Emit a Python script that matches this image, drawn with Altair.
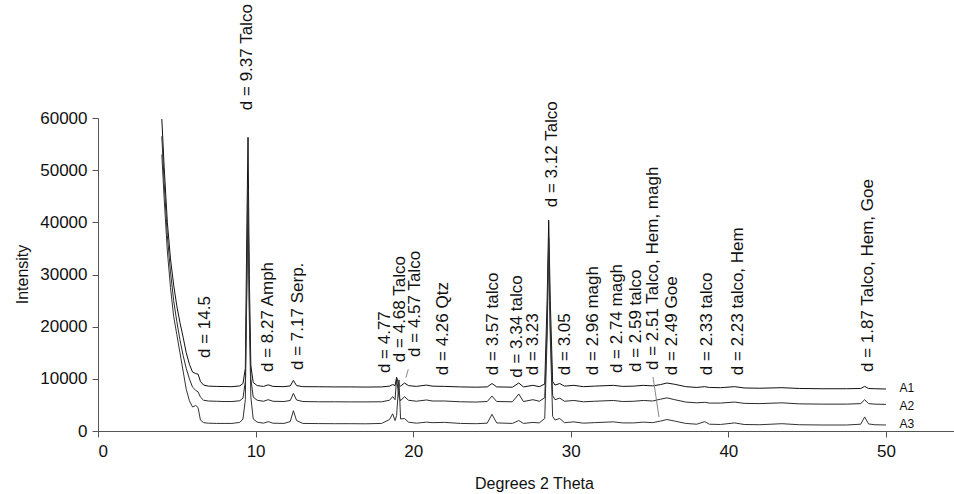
import altair as alt
import pandas as pd

# Diffraction patterns (2θ in degrees, intensity in counts) for samples A1, A2, A3
two_theta = [
    4.05, 4.2, 4.4, 4.6, 4.8, 5.0, 5.2, 5.4, 5.6, 5.8, 6.0, 6.2, 6.35, 6.5, 6.7, 7.0,
    7.5, 8.0, 8.5, 9.0, 9.2, 9.35, 9.45, 9.52, 9.6, 9.7, 9.85, 10.1, 10.5, 10.8, 11.1,
    11.8, 12.2, 12.4, 12.6, 13.0, 14.0, 15.0, 16.0, 17.0, 18.0, 18.5, 18.7, 18.85,
    18.95, 19.1, 19.2, 19.45, 19.7, 20.2, 20.85, 21.2, 22.0, 23.0, 24.0, 24.7, 25.0,
    25.3, 26.3, 26.7, 27.0, 27.6, 28.0, 28.35, 28.5, 28.6, 28.7, 28.85, 29.0, 29.3,
    29.6, 30.2, 30.8, 31.5, 32.7, 33.3, 34.0, 34.6, 35.2, 35.7, 36.1, 36.6, 37.3,
    38.0, 38.5, 38.8, 39.5, 40.4, 41.0, 42.0, 43.4, 44.5, 46.0, 47.5, 48.4, 48.65,
    48.9, 49.3, 50.0,
]
a1 = [
    59800, 50500, 40000, 33000, 28000, 24000, 20800, 18000, 15000, 12800, 11300, 11000, 10900, 9500, 8800, 8600,
    8550, 8520, 8500, 8650, 9100, 12000, 40000, 56300, 30000, 12500, 9300, 8700, 8550, 8850, 8550,
    8500, 8650, 9700, 8700, 8500, 8480, 8450, 8450, 8420, 8450, 8600, 8900, 8700,
    10300, 8900, 8600, 9200, 8700, 8550, 8800, 8600, 8550, 8450, 8400, 8450, 9100,
    8450, 8400, 9200, 8450, 8750, 8500, 9000, 25000, 40400, 25000, 9500, 8800, 9100,
    8600, 8750, 8500, 8600, 8750, 8550, 8600, 8750, 8650, 8900, 9200, 8950, 8500,
    8350, 8500, 8350, 8300, 8500, 8250, 8200, 8300, 8150, 8100, 8100, 8150, 8550,
    8150, 8100, 8050,
]
a2 = [
    56500, 47500, 37500, 30500, 25000, 21000, 17500, 14500, 12000, 10000, 8400, 7800, 7500, 6500, 5900, 5750,
    5700, 5650, 5650, 5800, 6300, 9500, 30000, 46500, 25000, 10000, 6500, 5900, 5700, 6000, 5700,
    5650, 5850, 7200, 5950, 5650, 5600, 5600, 5580, 5580, 5600, 5900, 6600, 6000,
    10000, 6500, 5800, 6600, 5900, 5700, 5950, 5750, 5750, 5600, 5550, 5650, 6700,
    5650, 5600, 7100, 5650, 6000, 5700, 6400, 20000, 37000, 20000, 6800, 6000, 6300,
    5700, 5850, 5600, 5700, 5850, 5650, 5700, 5850, 5750, 6100, 6350, 6000, 5550,
    5400, 5500, 5350, 5350, 5550, 5300, 5250, 5400, 5200, 5150, 5150, 5250, 6000,
    5250, 5150, 5100,
]
a3 = [
    53000, 44500, 34500, 27500, 22000, 18500, 15000, 11500, 8000, 5800, 4600, 4900, 4500, 2100, 1600, 1500,
    1450, 1450, 1450, 1650, 2300, 6000, 28000, 44000, 22000, 6500, 2300, 1700, 1500, 1800, 1500,
    1450, 1800, 3900, 2000, 1450, 1420, 1400, 1400, 1380, 1450, 2200, 3300, 2000,
    3000, 9800, 2300, 2400, 1700, 1500, 1700, 1600, 1650, 1450, 1400, 1500, 3200,
    1550, 1450, 2000, 1450, 1650, 1550, 2400, 18000, 35000, 18000, 2800, 2100, 2400,
    1600, 1750, 1500, 1600, 1750, 1550, 1550, 1700, 1600, 1900, 2200, 1900, 1450,
    1300, 1800, 1300, 1250, 1550, 1250, 1200, 1400, 1200, 1150, 1150, 1300, 2700,
    1350, 1200, 1150,
]
series_names = ["A1", "A2", "A3"]
series_values = [a1, a2, a3]

# Reflection annotations: d-spacing text, 2θ position and foot height
peak_text = [
    "d = 14.5", "d = 9.37 Talco", "d = 8.27 Amph", "d = 7.17 Serp.", "d = 4.77",
    "d = 4.68 Talco", "d = 4.57 Talco", "d = 4.26 Qtz", "d = 3.57 talco",
    "d = 3.34 talco", "d = 3.23", "d = 3.12 Talco", "d = 3.05", "d = 2.96 magh",
    "d = 2.74 magh", "d = 2.59 talco", "d = 2.51 Talco, Hem, magh", "d = 2.49 Goe",
    "d = 2.33 talco", "d = 2.23 talco, Hem", "d = 1.87 Talco, Hem, Goe",
]
peak_x = [
    6.79, 9.45, 10.79, 12.69, 18.21, 19.16, 20.11, 21.89, 25.06, 26.59, 27.6,
    28.81, 29.63, 31.41, 32.93, 34.14, 35.22, 36.42, 38.64, 40.61, 48.86,
]
peak_y = [
    14000, 61500, 11300, 11700, 11100, 13200, 14200, 10700, 10700, 10200, 10700,
    42900, 10700, 10700, 11100, 11300, 11700, 10700, 10700, 10700, 11300,
]

# Leader lines from two labels down to their reflections
leader_x = [19.69, 35.22]
leader_x2 = [19.54, 35.6]
leader_y = [11830, 10350]
leader_y2 = [10220, 2680]

# Sample names at the right end of each pattern
name_x = [51.33, 51.33, 51.33]
name_y = [8240, 4790, 1340]

FONT = "Liberation Sans"

rows = []
for name, vals in zip(series_names, series_values):
    for t, v in zip(two_theta, vals):
        rows.append({"theta": t, "intensity": v, "sample": name})
df = pd.DataFrame(rows)

labels_df = pd.DataFrame({"text": peak_text, "x": peak_x, "y": peak_y})
leaders_df = pd.DataFrame({"x": leader_x, "x2": leader_x2, "y": leader_y, "y2": leader_y2})
names_df = pd.DataFrame({"text": series_names, "x": name_x, "y": name_y})

x_scale = alt.Scale(domain=[0, 54.32], nice=False, zero=False)
y_scale = alt.Scale(domain=[0, 60000], nice=False)

lines = alt.Chart(df).mark_line(strokeWidth=1, clip=False).encode(
    x=alt.X(
        "theta:Q",
        scale=x_scale,
        axis=alt.Axis(
            title="Degrees 2 Theta",
            values=[0, 10, 20, 30, 40, 50],
            format="d",
            grid=False,
            tickSize=6,
            labelPadding=6,
            titleX=436,
            titleY=52,
            titleBaseline="middle",
        ),
    ),
    y=alt.Y(
        "intensity:Q",
        scale=y_scale,
        axis=alt.Axis(
            title="Intensity",
            values=[0, 10000, 20000, 30000, 40000, 50000, 60000],
            format="d",
            grid=False,
            tickSize=6,
            labelPadding=5,
            titleX=-76,
            titleY=156,
            titleBaseline="middle",
            titleAngle=270,
        ),
    ),
    color=alt.Color(
        "sample:N",
        scale=alt.Scale(domain=series_names, range=["#111111", "#2a2a2a", "#333333"]),
        legend=None,
    ),
    detail="sample:N",
    order="theta:Q",
)

labels = alt.Chart(labels_df).mark_text(
    angle=270, align="left", baseline="middle", font=FONT, fontSize=17, color="#111111"
).encode(x=alt.X("x:Q", scale=x_scale), y=alt.Y("y:Q", scale=y_scale), text="text:N")

leaders = alt.Chart(leaders_df).mark_rule(color="#888888", strokeWidth=1).encode(
    x=alt.X("x:Q", scale=x_scale), x2="x2:Q", y=alt.Y("y:Q", scale=y_scale), y2="y2:Q"
)

names = alt.Chart(names_df).mark_text(
    align="center", baseline="middle", font=FONT, fontSize=12, color="#111111"
).encode(x=alt.X("x:Q", scale=x_scale), y=alt.Y("y:Q", scale=y_scale), text="text:N")

chart = (
    alt.layer(lines, leaders, labels, names)
    .properties(
        width=856,
        height=313,
        autosize=alt.AutoSizeParams(type="none"),
        padding={"left": 98, "top": 118, "right": 0, "bottom": 63},
        background="white",
    )
    .configure_view(stroke=None)
    .configure_axis(
        domainColor="#555555",
        tickColor="#555555",
        labelColor="#111111",
        titleColor="#111111",
        labelFont=FONT,
        titleFont=FONT,
        labelFontSize=17,
        titleFontSize=16,
        titleFontWeight="normal",
    )
)

chart.save("out.html", embed_options={"renderer": "svg", "actions": False})
